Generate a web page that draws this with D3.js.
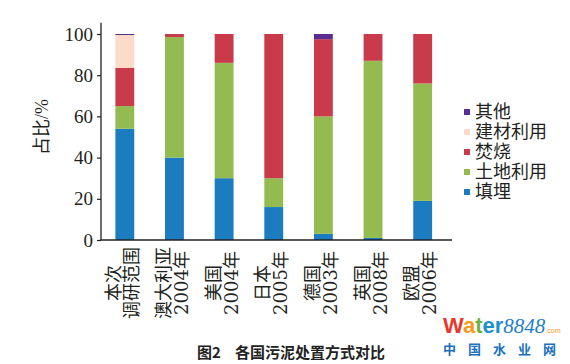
<!DOCTYPE html>
<html>
<head>
<meta charset="utf-8">
<script src="https://cdn.jsdelivr.net/npm/d3@7/dist/d3.min.js"></script>
<style>
  html, body { margin: 0; padding: 0; background: #fff; }
  svg { display: block; }
</style>
</head>
<body>
<script>
// ---- data ----
const catLine1 = ["本次", "澳大利亚", "美国", "日本", "德国", "英国", "欧盟"];
const catLine2 = ["调研范围", "2004年", "2004年", "2005年", "2003年", "2008年", "2006年"];
const seriesNames = ["填埋", "土地利用", "焚烧", "建材利用", "其他"];
const landfill      = [54, 40, 30, 16, 3, 1, 19];
const landUse       = [11, 58.5, 56, 14, 57, 86, 57];
const incineration  = [18.5, 1.5, 14, 70, 37.5, 13, 24];
const buildingMat   = [16, 0, 0, 0, 0, 0, 0];
const other         = [0.5, 0, 0, 0, 2.5, 0, 0];
const yTicks = [0, 20, 40, 60, 80, 100];
const yTitle = "占比/%";
const caption1 = "图2";
const caption2 = "各国污泥处置方式对比";

const colors = ["#1b7cc0", "#93bb50", "#c93a4b", "#fcdcc9", "#5a2e90"];
const seriesValues = [landfill, landUse, incineration, buildingMat, other];

const W = 570, H = 364;
const svg = d3.select("body").append("svg").attr("width", W).attr("height", H);

const numFont = "'Liberation Serif', 'Noto Sans CJK SC', serif";
const labFont = "'DejaVu Serif', 'Noto Sans CJK SC', serif";
const textColor = "#231f20";

const rows = catLine1.map((c, i) => {
  const r = { idx: i };
  seriesNames.forEach((s, k) => r[s] = seriesValues[k][i]);
  return r;
});

const x = d3.scaleBand().domain(d3.range(catLine1.length))
  .range([100, 447.5]).paddingInner(0.62).paddingOuter(0.31);
const y = d3.scaleLinear().domain([0, 100]).range([240, 34]);

const stack = d3.stack().keys(seriesNames)(rows);

svg.append("g").selectAll("g").data(stack).join("g")
  .attr("fill", (d, i) => colors[i])
  .selectAll("rect").data(d => d).join("rect")
  .attr("x", d => x(d.data.idx))
  .attr("width", x.bandwidth())
  .attr("y", d => y(d[1]))
  .attr("height", d => Math.max(0, y(d[0]) - y(d[1])));

// y axis
const yAxis = d3.axisLeft(y).tickValues(yTicks).tickSize(4).tickSizeOuter(0).tickPadding(4);
const gy = svg.append("g").attr("transform", "translate(101,0)").call(yAxis);
gy.select(".domain").remove();
gy.selectAll(".tick line").attr("stroke", textColor).attr("stroke-width", 1.2);
gy.selectAll(".tick text").attr("font-family", numFont).attr("font-size", 19).attr("fill", textColor);
svg.append("line").attr("x1", 101).attr("x2", 101).attr("y1", y(0)).attr("y2", y(105.5))
  .attr("stroke", textColor).attr("stroke-width", 1.3);

// x axis line
svg.append("line").attr("x1", 100.5).attr("x2", 452).attr("y1", y(0)).attr("y2", y(0))
  .attr("stroke", textColor).attr("stroke-width", 1.5);

// x labels (rotated, two lines)
const lab = svg.append("g").selectAll("g").data(catLine1).join("g")
  .attr("transform", (d, i) => `translate(${x(i) + x.bandwidth() / 2 - 2},283) rotate(-90)`);
lab.append("text").attr("y", -9).attr("dominant-baseline", "central").attr("text-anchor", "middle")
  .attr("font-family", labFont).attr("font-size", 18).attr("fill", textColor).text(d => d);
lab.append("text").attr("y", 9).attr("dominant-baseline", "central").attr("text-anchor", "middle")
  .attr("font-family", labFont).attr("font-size", 18).attr("fill", textColor).text((d, i) => catLine2[i]);

// y title
svg.append("text").attr("transform", "translate(42,127) rotate(-90)")
  .attr("text-anchor", "middle").attr("dominant-baseline", "central")
  .attr("font-family", numFont).attr("font-size", 18).attr("fill", textColor).text(yTitle);

// legend
const legendOrder = [4, 3, 2, 1, 0];
const lg = svg.append("g").selectAll("g").data(legendOrder).join("g")
  .attr("transform", (d, i) => `translate(464,${112 + i * 20})`);
lg.append("rect").attr("x", 0).attr("y", -3).attr("width", 6).attr("height", 6).attr("fill", d => colors[d]);
lg.append("text").attr("x", 11).attr("dominant-baseline", "central")
  .attr("font-family", numFont).attr("font-size", 18).attr("fill", textColor)
  .text(d => seriesNames[d]);

// caption
svg.append("text").attr("x", 197).attr("y", 351).attr("dominant-baseline", "central")
  .attr("font-family", "'Noto Sans CJK SC', sans-serif").attr("font-weight", "bold")
  .attr("font-size", 15).attr("fill", "#222").text(caption1);
svg.append("text").attr("x", 235).attr("y", 351).attr("dominant-baseline", "central")
  .attr("font-family", "'Noto Sans CJK SC', sans-serif").attr("font-weight", "bold")
  .attr("font-size", 15).attr("fill", "#222").text(caption2);

// watermark
const wm = svg.append("text").attr("x", 443).attr("y", 333)
  .attr("font-family", "'Liberation Sans', Arial, sans-serif").attr("font-weight", "bold").attr("font-size", 22);
[["W", "#e53a2f"], ["a", "#f29b1d"], ["t", "#6cb33f"], ["e", "#1e8fd0"], ["r", "#1e8fd0"]]
  .forEach(([c, col]) => wm.append("tspan").attr("fill", col).text(c));
wm.append("tspan").attr("font-family", "'Liberation Serif', serif").attr("font-style", "italic")
  .attr("font-weight", "normal").attr("font-size", 21).attr("fill", "#1e7fc8").text("8848");
wm.append("tspan").attr("font-size", 7).attr("font-weight", "normal").attr("fill", "#f29b1d").text(".com");
svg.append("text").attr("x", 443).attr("y", 348).attr("dominant-baseline", "central")
  .attr("font-family", "'Noto Sans CJK SC', sans-serif").attr("font-weight", "bold")
  .attr("font-size", 13).attr("letter-spacing", 12).attr("fill", "#1a6fc0").text("中国水业网");
</script>
</body>
</html>
